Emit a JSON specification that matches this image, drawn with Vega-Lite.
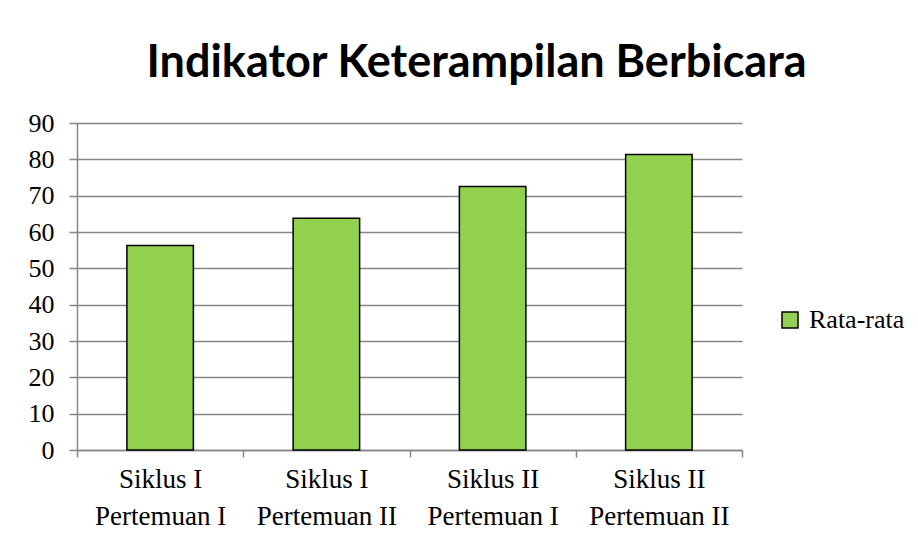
{
  "$schema": "https://vega.github.io/schema/vega-lite/v6.json",
  "width": 665,
  "height": 327,
  "autosize": "none",
  "padding": {"left": 77, "top": 123, "right": 176, "bottom": 86},
  "background": "white",
  "title": {
    "text": "Indikator Keterampilan Berbicara",
    "font": "Lato",
    "fontSize": 45,
    "fontWeight": "bold",
    "color": "black",
    "anchor": "middle",
    "frame": "group",
    "dx": 67,
    "offset": 24
  },
  "data": {
    "values": [
      {"kategori": "Siklus I Pertemuan I", "nilai": 56.3, "seri": "Rata-rata"},
      {"kategori": "Siklus I Pertemuan II", "nilai": 63.8, "seri": "Rata-rata"},
      {"kategori": "Siklus II Pertemuan I", "nilai": 72.5, "seri": "Rata-rata"},
      {"kategori": "Siklus II Pertemuan II", "nilai": 81.3, "seri": "Rata-rata"}
    ]
  },
  "mark": {"type": "bar", "width": {"band": 0.4}, "stroke": "black", "strokeWidth": 1.5},
  "encoding": {
    "x": {
      "field": "kategori",
      "type": "nominal",
      "sort": null,
      "scale": {"paddingInner": 0, "paddingOuter": 0},
      "axis": {
        "title": null,
        "labelAngle": 0,
        "labelExpr": "split(replace(datum.label, ' Pertemuan', '|Pertemuan'), '|')",
        "labelFont": "Liberation Serif",
        "labelFontSize": 27,
        "labelColor": "black",
        "labelLineHeight": 37,
        "labelPadding": 9,
        "tickBand": "extent",
        "tickExtra": true,
        "tickSize": 7,
        "tickColor": "#868686",
        "tickWidth": 1.5,
        "domainColor": "#868686",
        "domainWidth": 1.5,
        "grid": false
      }
    },
    "y": {
      "field": "nilai",
      "type": "quantitative",
      "scale": {"domain": [0, 90], "nice": false},
      "axis": {
        "title": null,
        "values": [0, 10, 20, 30, 40, 50, 60, 70, 80, 90],
        "labelFont": "Liberation Serif",
        "labelFontSize": 26,
        "labelColor": "black",
        "labelPadding": 15,
        "tickSize": 8,
        "tickColor": "#868686",
        "tickWidth": 1.5,
        "domainColor": "#868686",
        "domainWidth": 1.5,
        "gridColor": "#868686",
        "gridWidth": 1.5
      }
    },
    "color": {
      "field": "seri",
      "type": "nominal",
      "scale": {"range": ["#92D050"]},
      "legend": {
        "title": null,
        "orient": "none",
        "legendX": 700,
        "legendY": 184,
        "padding": 0,
        "symbolType": "square",
        "symbolSize": 256,
        "symbolStrokeColor": "black",
        "symbolStrokeWidth": 1.5,
        "symbolOpacity": 1,
        "labelFont": "Liberation Serif",
        "labelFontSize": 26,
        "labelColor": "black",
        "labelOffset": 6
      }
    }
  },
  "config": {"view": {"stroke": null}}
}
